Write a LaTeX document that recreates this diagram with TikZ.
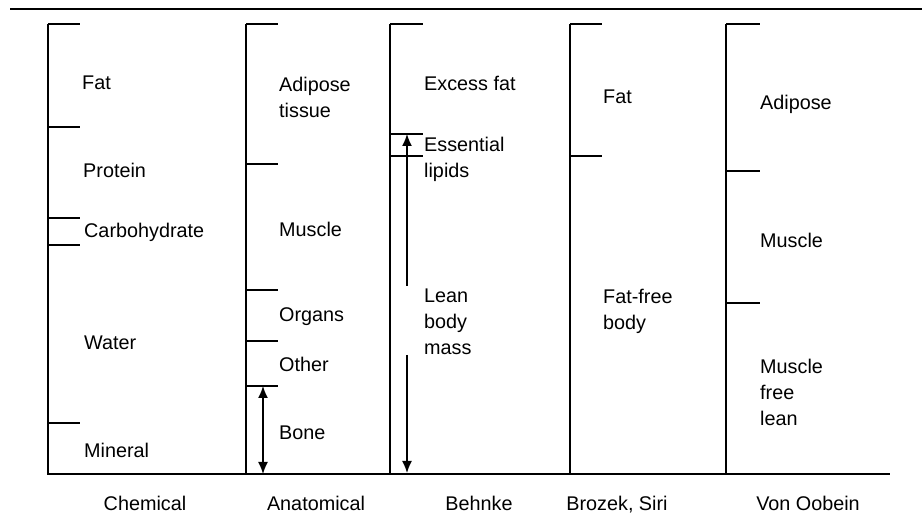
\documentclass[tikz,border=0pt]{standalone}
\usepackage{fontspec}
\setmainfont{Liberation Sans}
\usetikzlibrary{arrows.meta}

\begin{document}
\begin{tikzpicture}[x=1pt, y=-1pt,
    rule/.style={line width=2pt, black},
    bar/.style={line width=1.8pt, black},
    tick/.style={line width=1.5pt, black},
    tip/.tip={Latex[length=12pt,width=10pt]},
    arrow/.style={line width=1.5pt, -tip},
    lbl/.style={anchor=base west, inner sep=0pt, align=left,
      font=\fontsize{19.8}{26}\selectfont},
    colname/.style={anchor=base, inner sep=0pt, font=\fontsize{19.8}{26}\selectfont},
  ]
    \useasboundingbox (0,0) rectangle (922,529);
    \draw[rule] (10,9) -- (922,9);
    \draw[rule] (47,474) -- (890,474);

    % Chemical
    \draw[bar] (48,24) -- (48,474);
    \foreach \y in {24,127,218,245,423} \draw[tick] (48,\y) -- ++(32,0);
    \node[lbl] (fat)     at (82,90)  {Fat};
    \node[lbl] (protein) at (83,178) {Protein};
    \node[lbl] (carb)    at (84,238) {Carbohydrate};
    \node[lbl] (water)   at (84,350) {Water};
    \node[lbl] (mineral) at (84,457) {Mineral};
    \node[colname] (chem) at (145,511) {Chemical};

    % Anatomical
    \draw[bar] (246,24) -- (246,474);
    \foreach \y in {24,164,290,341,386} \draw[tick] (246,\y) -- ++(32,0);
    \node[lbl] (adipose) at (279,118) {Adipose\\tissue};
    \node[lbl] (muscle)  at (279,237) {Muscle};
    \node[lbl] (organs)  at (279,322) {Organs};
    \node[lbl] (other)   at (279,372) {Other};
    \node[lbl] (bone)    at (279,440) {Bone};
    \coordinate (bone-t) at (263,386);
    \coordinate (bone-b) at (263,474);
    \draw[arrow, tip-tip] (bone-t) -- (bone-b);
    \node[colname] (anat) at (316,511) {Anatomical};

    % Behnke
    \draw[bar] (390,24) -- (390,474);
    \foreach \y in {24,134,156} \draw[tick] (390,\y) -- ++(33,0);
    \node[lbl] (excess)  at (424,91)  {Excess fat};
    \node[lbl] (lipids)  at (424,178) {Essential\\lipids};
    \node[lbl] (lbm)     at (424,355) {Lean\\body\\mass};
    \coordinate (lbm-t)  at (407,134);
    \coordinate (lbm-up) at (407,286);
    \coordinate (lbm-dn) at (407,355);
    \coordinate (lbm-b)  at (407,473);
    \draw[arrow] (lbm-up) -- (lbm-t);
    \draw[arrow] (lbm-dn) -- (lbm-b);
    \node[colname] (behnke) at (479,511) {Behnke};

    % Brozek, Siri
    \draw[bar] (570,24) -- (570,474);
    \foreach \y in {24,156} \draw[tick] (570,\y) -- ++(32,0);
    \node[lbl] (bfat)  at (603,104) {Fat};
    \node[lbl] (ffree) at (603,330) {Fat-free\\body};
    \node[colname] (brozek) at (617,511) {Brozek, Siri};

    % Von Oobein
    \draw[bar] (726,24) -- (726,474);
    \foreach \y in {24,171,303} \draw[tick] (726,\y) -- ++(34,0);
    \node[lbl] (vadipose) at (760,110) {Adipose};
    \node[lbl] (vmuscle)  at (760,248) {Muscle};
    \node[lbl] (mfl)      at (760,426) {Muscle\\free\\lean};
    \node[colname] (oobein) at (808,511) {Von Oobein};
  \end{tikzpicture}
\end{document}
